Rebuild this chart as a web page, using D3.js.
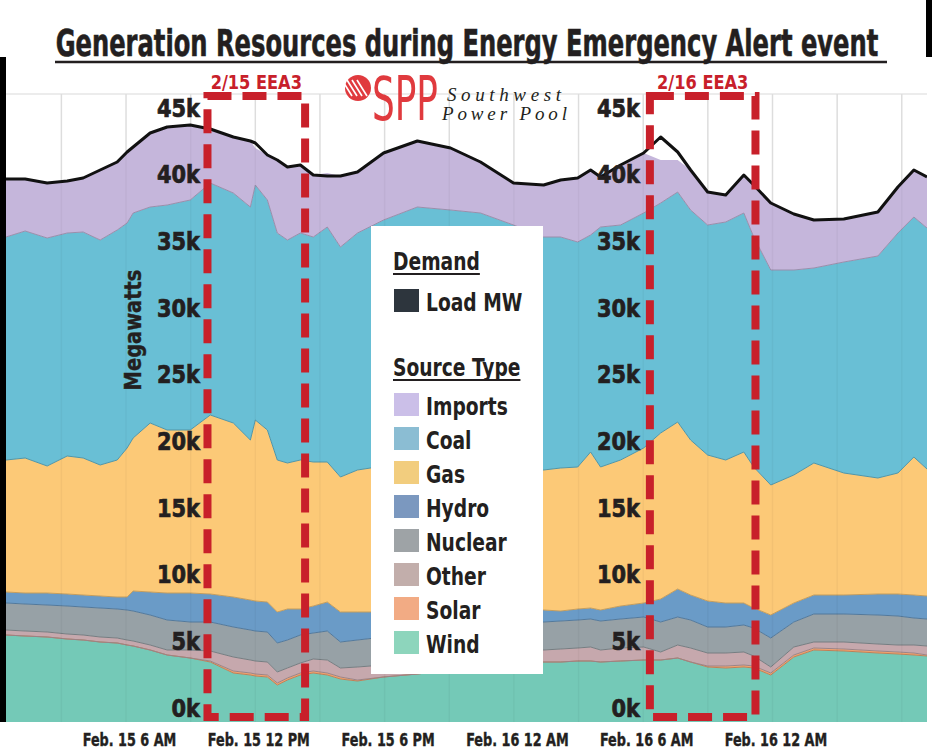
<!DOCTYPE html>
<html>
<head>
<meta charset="utf-8">
<script src="https://cdn.jsdelivr.net/npm/d3@7"></script>
<style>
  body { margin: 0; background: #fff; }
  svg text { font-family: "Liberation Sans Narrow", "DejaVu Sans Condensed", "Arial Narrow", sans-serif; font-weight: bold; fill: #231f20; }
</style>
</head>
<body>
<svg id="chart" width="932" height="754"></svg>
<script>
// hours since Feb 15 00:00
const hours = [0.43, 1.32, 2.34, 3.27, 4.01, 4.80, 5.59, 6.05, 6.33, 7.12, 7.91, 8.98, 9.91, 10.98, 11.77, 12.00, 12.56, 13.02, 13.49, 14.09,
  14.69, 15.34, 15.95, 16.74, 17.95, 19.52, 21.06, 22.45, 23.98, 25.38, 26.17, 26.96, 27.56, 28.02, 28.95, 30.02, 30.81, 31.60, 32.20, 32.99,
  33.83, 34.67, 35.13, 35.92, 36.99, 37.92, 39.31, 40.89, 41.82, 42.56, 43.17];

const wind = [5475, 5400, 5325, 5175, 5100, 4950, 4875, 4725, 4650, 4350, 3975, 3750, 3450, 2625, 2475, 2400, 2325, 1725, 2100, 2475,
  2625, 2475, 2175, 2025, 2325, 2550, 2850, 3150, 3300, 3450, 3450, 3525, 3525, 3450, 3525, 3600, 3600, 3750, 3450, 3075,
  3000, 3075, 3000, 2475, 3825, 4350, 4275, 4125, 4050, 3975, 3900];
const solar = [0, 0, 0, 0, 0, 0, 0, 0, 0, 0, 0, 0, 75, 150, 150, 150, 150, 150, 150, 150,
  150, 150, 150, 75, 0, 0, 0, 0, 0, 0, 0, 0, 0, 0, 0, 0, 0, 0, 0, 75,
  150, 150, 150, 150, 150, 150, 150, 150, 150, 150, 75];
const other = [375, 375, 375, 375, 375, 375, 375, 375, 375, 375, 375, 600, 750, 1050, 975, 975, 975, 825, 750, 750,
  900, 975, 675, 975, 900, 1050, 1050, 975, 975, 900, 975, 975, 1050, 900, 975, 975, 600, 975, 1050, 975,
  975, 975, 750, 450, 600, 450, 525, 525, 525, 600, 675];
const nuclear = [2025, 2025, 2025, 2100, 2100, 2175, 2175, 2250, 2250, 2250, 2250, 2100, 2175, 2250, 2250, 2250, 2250, 2175, 2100, 2100,
  1950, 2175, 1950, 2025, 2100, 2025, 2100, 2100, 2100, 2100, 2100, 2100, 2100, 2175, 2175, 2250, 2250, 2100, 2100, 1950,
  1950, 2025, 2100, 2175, 1875, 2100, 2100, 2175, 2175, 2025, 2025];
const hydro = [825, 825, 900, 900, 900, 900, 900, 975, 1500, 1725, 2025, 2175, 2100, 2250, 2250, 2250, 2250, 2325, 2325, 1950,
  2025, 2175, 2250, 2100, 1875, 1575, 1275, 1125, 975, 900, 750, 825, 825, 825, 975, 1050, 1725, 2100, 1875, 1950,
  1800, 1650, 1500, 1725, 1425, 1425, 1425, 1575, 1650, 1725, 1725];
const gas = [9900, 10125, 9525, 10350, 10275, 9825, 10275, 11175, 11475, 12675, 12225, 12225, 13425, 13050, 12000, 13575, 12900, 11400, 10950, 11175,
  10800, 10500, 10125, 10650, 10950, 10800, 10725, 10575, 10500, 10500, 10725, 10650, 11700, 10725, 10950, 11625, 12450, 12525, 11625, 10950,
  10725, 11325, 10575, 9750, 9600, 9900, 9150, 8700, 9075, 10350, 9525];
const coal = [16725, 17025, 17100, 16725, 16950, 16875, 17250, 16875, 16875, 16200, 16875, 17250, 17400, 17250, 17475, 17625, 17250, 17025, 16725, 17025,
  16875, 17625, 17250, 17775, 18450, 19575, 19350, 19200, 18375, 17475, 17325, 16875, 16275, 18000, 17625, 17625, 17250, 17250, 17250, 17250,
  17850, 17925, 17250, 16125, 15375, 14625, 15825, 16650, 18000, 18000, 18075];
const imports = [4350, 3900, 4125, 3900, 4050, 5250, 5100, 5325, 4950, 5550, 5850, 5625, 4050, 4200, 4950, 2775, 3375, 5475, 5475, 5100,
  4650, 4050, 5325, 4575, 5025, 4950, 4650, 3825, 3150, 3900, 4275, 4800, 4875, 3750, 4500, 4500, 3225, 2400, 3000, 2475,
  2025, 2850, 3900, 5025, 4200, 3600, 3225, 3300, 3450, 3525, 3825];
const loadMW = [39675, 39675, 39375, 39525, 39750, 40350, 40950, 41700, 42075, 43125, 43575, 43725, 43425, 42825, 42525, 42375, 41475, 41100, 40575, 40725,
  39975, 39900, 39900, 40200, 41625, 42525, 42000, 40950, 39375, 39225, 39600, 39750, 40350, 39825, 40725, 41625, 42825, 41700, 40350, 38700,
  38475, 39975, 39225, 37875, 37050, 36600, 36675, 37200, 39075, 40350, 39825];

const sourceKeys = ["Wind", "Solar", "Other", "Nuclear", "Hydro", "Gas", "Coal", "Imports"];
const sourceValues = [wind, solar, other, nuclear, hydro, gas, coal, imports];
const legendOrder = ["Imports", "Coal", "Gas", "Hydro", "Nuclear", "Other", "Solar", "Wind"];

const yTicks = [0, 5000, 10000, 15000, 20000, 25000, 30000, 35000, 40000, 45000];
const xLabelHours = [6, 12, 18, 24, 30, 36];
const xLabelText = ["Feb. 15 6 AM", "Feb. 15 12 PM", "Feb. 15 6 PM", "Feb. 16 12 AM", "Feb. 16 6 AM", "Feb. 16 12 AM"];

const eeaLabels = ["2/15 EEA3", "2/16 EEA3"];
const eeaStart = [9.78, 30.31];
const eeaEnd = [14.31, 35.21];

const areaColor = {
  Imports: "#c5b6db", Coal: "#69bfd5", Gas: "#fcc977", Hydro: "#6a9bc7",
  Nuclear: "#97a1a6", Other: "#c6a8ad", Solar: "#f3a470", Wind: "#74c9b7"
};
const legendColor = {
  Imports: "#cbbfe8", Coal: "#8bbdd3", Gas: "#f2cd7e", Hydro: "#7b98bf",
  Nuclear: "#9ea3a6", Other: "#c2aeab", Solar: "#f2ab84", Wind: "#8dd5bc"
};
const red = "#c8202a";
const ink = "#231f20";
const narrow = 0.83; // squeeze for the condensed lettering

const svg = d3.select("#chart");
const plot = { left: 6, right: 927, top: 90, bottom: 722 };

const base = new Date(2021, 1, 15);
const toDate = h => new Date(base.getTime() + h * 3600e3);

const x = d3.scaleTime()
  .domain([toDate(hours[0]), toDate(hours[hours.length - 1])])
  .range([plot.left, plot.right]);
const y = d3.scaleLinear().domain([0, 45000]).range([708, 108]);
const yFloor = y.invert(plot.bottom);

// rows for stacking
const rows = hours.map((h, i) => {
  const r = { date: toDate(h) };
  sourceKeys.forEach((k, j) => { r[k] = sourceValues[j][i]; });
  return r;
});
const stacked = d3.stack().keys(sourceKeys)(rows);

// text helper, squeezed horizontally
function ctext(parent, tx, ty, str, size, sx) {
  return parent.append("text")
    .attr("transform", `translate(${tx},${ty}) scale(${sx},1)`)
    .attr("font-size", size)
    .text(str);
}

// page frame
svg.append("rect").attr("width", 932).attr("height", 754).attr("fill", "#fff");
svg.append("rect").attr("x", 0).attr("y", 57).attr("width", 6).attr("height", plot.bottom - 57).attr("fill", "#000");
svg.append("rect").attr("x", 926).attr("y", 0).attr("width", 6).attr("height", 57).attr("fill", "#000");

svg.append("defs").append("clipPath").attr("id", "clip")
  .append("rect").attr("x", plot.left).attr("y", plot.top)
  .attr("width", plot.right - plot.left).attr("height", plot.bottom - plot.top);

// gridlines under the areas
const gridTimes = d3.timeHour.every(3).range(x.domain()[0], x.domain()[1]);
const grid = svg.append("g");
grid.selectAll("line.v").data(gridTimes).enter().append("line")
  .attr("x1", d => x(d)).attr("x2", d => x(d))
  .attr("y1", 94).attr("y2", plot.bottom)
  .attr("stroke", "#e6e6e6").attr("stroke-width", 1.5);
grid.append("line").attr("x1", plot.left).attr("x2", plot.right)
  .attr("y1", 94).attr("y2", 94).attr("stroke", "#e6e6e6").attr("stroke-width", 1.5);

const g = svg.append("g").attr("clip-path", "url(#clip)");

const area = d3.area()
  .x(d => x(d.data.date))
  .y0(d => d[0] === 0 ? y(yFloor) : y(d[0]))
  .y1(d => y(d[1]));

g.selectAll("path.area").data(stacked).enter().append("path")
  .attr("d", area)
  .attr("fill", d => areaColor[d.key]);

// edge lines between layers
const edge = d3.line().x(d => x(d.data.date)).y(d => y(d[0]));
g.selectAll("path.edge").data(stacked.slice(1)).enter().append("path")
  .attr("d", edge)
  .attr("fill", "none")
  .attr("stroke", d => d3.color(areaColor[d.key]).darker(0.7))
  .attr("stroke-width", 1);

// faint grid over areas
g.selectAll("line.vo").data(gridTimes).enter().append("line")
  .attr("x1", d => x(d)).attr("x2", d => x(d))
  .attr("y1", 94).attr("y2", plot.bottom)
  .attr("stroke", "#000").attr("stroke-opacity", 0.035).attr("stroke-width", 1.5);

// load line
const line = d3.line().x((d, i) => x(toDate(hours[i]))).y(d => y(d));
g.append("path").datum(loadMW)
  .attr("d", line)
  .attr("fill", "none")
  .attr("stroke", "#111")
  .attr("stroke-width", 3)
  .attr("stroke-linejoin", "round");

// y-axis labels (two columns inside the plot)
[200, 640].forEach(px => {
  const ax = svg.append("g").attr("transform", `translate(${px},0)`)
    .call(d3.axisLeft(y).tickValues(yTicks).tickFormat(d => d / 1000 + "k").tickSize(0).tickPadding(0));
  ax.select(".domain").remove();
  ax.selectAll("text").attr("font-size", 25).attr("font-family", null)
    .attr("transform", "scale(0.93,1)")
    .style("fill", ink).style("stroke", ink).style("stroke-width", 0.7);
});

svg.append("text")
  .attr("transform", "translate(133,330) rotate(-90) scale(0.94,1)")
  .attr("text-anchor", "middle").attr("dy", "0.35em")
  .attr("font-size", 23)
  .style("stroke", ink).style("stroke-width", 0.4)
  .text("Megawatts");

// x-axis labels
const xa = svg.append("g").attr("transform", `translate(0,${plot.bottom + 11})`)
  .call(d3.axisBottom(x).tickValues(xLabelHours.map(toDate)).tickFormat((d, i) => xLabelText[i]).tickSize(0).tickPadding(0));
xa.select(".domain").remove();
xa.selectAll("text").attr("font-size", 18).attr("font-family", null)
  .attr("transform", "translate(3,0) scale(0.79,1)")
  .style("fill", ink).style("stroke", ink).style("stroke-width", 0.4);

// EEA boxes
eeaLabels.forEach((lab, i) => {
  const x0 = x(toDate(eeaStart[i])), x1 = x(toDate(eeaEnd[i]));
  svg.append("rect")
    .attr("x", x0).attr("y", 96).attr("width", x1 - x0).attr("height", 717 - 96)
    .attr("fill", "none").attr("stroke", red).attr("stroke-width", 8)
    .attr("stroke-dasharray", "24,11");
  ctext(svg, (x0 + x1) / 2, 89, lab, 20, 0.9)
    .attr("text-anchor", "middle")
    .style("fill", red);
});

// title
const title = svg.append("text")
  .attr("font-size", 38)
  .attr("text-anchor", "middle")
  .style("stroke", ink).style("stroke-width", 0.6)
  .text("Generation Resources during Energy Emergency Alert event");
const titleW = title.node().getComputedTextLength();
title.attr("transform", `translate(467,56) scale(${823 / titleW},1)`);
svg.append("line").attr("x1", 55).attr("x2", 887).attr("y1", 62).attr("y2", 62)
  .attr("stroke", ink).attr("stroke-width", 2.5);

// SPP logo
const logo = svg.append("g");
logo.append("circle").attr("cx", 358).attr("cy", 88).attr("r", 13).attr("fill", "#e03a3e");
[-8, -3, 2, 7].forEach(o => {
  logo.append("line")
    .attr("x1", 350 + o).attr("y1", 80).attr("x2", 360 + o).attr("y2", 96)
    .attr("stroke", "#fff").attr("stroke-width", 1.6);
});
const spp = logo.append("text")
  .attr("font-size", 40)
  .style("font-weight", "normal")
  .style("fill", "#e03a3e")
  .text("SPP");
const sppW = spp.node().getComputedTextLength();
spp.attr("transform", `translate(372,120) scale(${66 / sppW},1.5)`);
[["Southwest", 447, 101, 114], ["Power Pool", 442, 120, 125]].forEach(([t, tx, ty, w]) => {
  logo.append("text")
    .attr("x", tx).attr("y", ty)
    .attr("font-size", 19)
    .attr("textLength", w)
    .style("font-family", "'Liberation Serif', 'DejaVu Serif', serif")
    .style("font-weight", "normal").style("font-style", "italic")
    .style("fill", ink)
    .text(t);
});

// legend
const lg = svg.append("g");
lg.append("rect").attr("x", 371).attr("y", 226).attr("width", 172).attr("height", 448).attr("fill", "#fff");

function header(text, yy) {
  const t = ctext(lg, 393, yy, text, 25, narrow);
  const w = t.node().getComputedTextLength() * narrow;
  lg.append("line").attr("x1", 393).attr("x2", 393 + w).attr("y1", yy + 4).attr("y2", yy + 4)
    .attr("stroke", ink).attr("stroke-width", 2);
}
header("Demand", 270);
lg.append("rect").attr("x", 394).attr("y", 289).attr("width", 25).attr("height", 23).attr("fill", "#2d353d");
ctext(lg, 426, 311, "Load MW", 25, narrow);

header("Source Type", 376);
legendOrder.forEach((k, i) => {
  const yy = 393 + i * 34;
  lg.append("rect").attr("x", 394).attr("y", yy).attr("width", 25).attr("height", 23).attr("fill", legendColor[k]);
  ctext(lg, 426, yy + 22, k, 25, narrow);
});
</script>
</body>
</html>
